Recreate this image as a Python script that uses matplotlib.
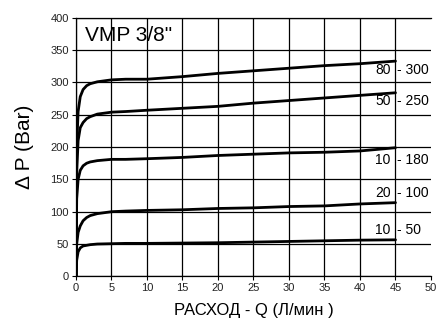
import matplotlib
matplotlib.use("Agg")
import matplotlib.pyplot as plt

plt.rcParams["font.family"] = ["Liberation Sans", "DejaVu Sans"]

# flow Q (l/min) and pressure drop (bar)
q = [0, 0.1, 0.3, 0.6, 1, 1.5, 2, 3, 5, 7, 10, 15, 20, 25, 30, 35, 40, 45]
p_300 = [0, 200, 255, 278, 289, 295, 298, 301, 304, 305, 305, 309, 314, 318, 322, 326, 329, 333]
p_250 = [0, 160, 210, 230, 238, 244, 247, 251, 254, 255, 257, 260, 263, 268, 272, 276, 280, 284]
p_180 = [0, 120, 150, 164, 171, 175, 177, 179, 181, 181, 182, 184, 187, 189, 191, 192, 194, 199]
p_100 = [0, 50, 68, 78, 86, 91, 94, 97, 100, 101, 102, 103, 105, 106, 108, 109, 112, 114]
p_50 = [0, 25, 38, 44, 47, 48, 49, 50, 50.5, 51, 51, 51.5, 52, 53, 54, 55, 56, 56.5]
curves = [p_300, p_250, p_180, p_100, p_50]

label_left = ["80", "50", "10", "20", "10"]
label_right = ["300", "250", "180", "100", "50"]
label_y = [320, 271, 180, 129, 72]

xticks = list(range(0, 55, 5))
yticks = list(range(0, 450, 50))

fig = plt.figure(figsize=(4.38, 3.18), dpi=100)
ax = fig.add_axes([0.1735, 0.131, 0.8105, 0.813])

ax.set_xlim(0, 50)
ax.set_ylim(0, 400)

# grid: horizontal lines across, vertical lines only up to 45
for yv in yticks:
    ax.axhline(yv, color="black", lw=0.9, zorder=1)
ax.vlines(xticks[:-1], 0, 400, color="black", lw=0.9, zorder=1)

for pv in curves:
    ax.plot(q, pv, color="black", lw=2.0, solid_capstyle="round", zorder=3)

for l, r, yv in zip(label_left, label_right, label_y):
    ax.text(44.3, yv, l, ha="right", va="center", fontsize=10)
    ax.text(45.2, yv, "- " + r, ha="left", va="center", fontsize=10)

ax.text(1.2, 373, 'VMP 3/8"', ha="left", va="center", fontsize=15)

ax.spines["right"].set_visible(False)
for s in ["left", "bottom", "top"]:
    ax.spines[s].set_linewidth(0.9)

ax.set_xticks(xticks)
ax.set_yticks(yticks)
ax.tick_params(labelsize=8, length=3, width=0.8, pad=2, labelcolor="#222222")

ax.set_xlabel("РАСХОД - Q (Л/мин )", fontsize=12, labelpad=7)
ax.set_ylabel("Δ P (Bar)", fontsize=15, labelpad=12)

fig.savefig("out.png", dpi=100)
